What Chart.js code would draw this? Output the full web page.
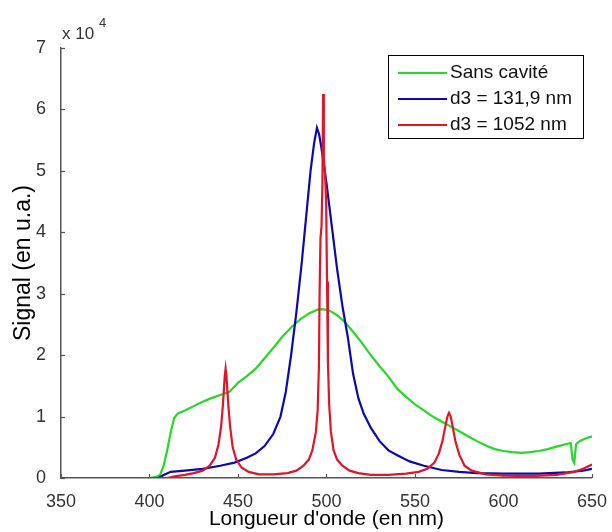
<!DOCTYPE html>
<html>
<head>
<meta charset="utf-8">
<script src="https://cdn.jsdelivr.net/npm/chart.js@4.4.1/dist/chart.umd.min.js"></script>
<style>
  html, body { margin: 0; padding: 0; background: #fff; }
  #wrap { width: 612px; height: 532px; }
</style>
</head>
<body>
<div id="wrap"><canvas id="c" width="612" height="532"></canvas></div>
<script>
// ---- Data (signal in raw counts, wavelength in nm) ----
const seriesLabels = ["Sans cavité", "d3 = 131,9 nm", "d3 = 1052 nm"];
const xTickValues = [350, 400, 450, 500, 550, 600, 650];
const yTickLabels = ["0", "1", "2", "3", "4", "5", "6", "7"];

const wlSansCavite = [350,380,400,404,406,408,410,412,414,416,420,425,430,435,440,445,450,455,460,465,470,475,480,485,490,495,498,502,506,510,515,520,525,530,535,540,545,550,555,560,565,570,575,580,585,590,595,600,605,610,615,620,625,630,635,638,639,640,641,643,646,650];
const sansCavite = [0,0,0,200,500,2000,4500,7500,9800,10500,11000,11700,12400,13000,13500,14000,15500,16600,17800,19500,21200,23000,24500,25800,26800,27400,27500,27200,26500,25500,23800,22000,20000,18200,16500,14500,13200,12000,11000,10000,9200,8400,7600,6800,6000,5300,4700,4400,4200,4100,4200,4400,4700,5100,5500,5700,3000,2500,5500,6000,6400,6800];

const wlD3_131 = [350,380,405,408,412,420,430,440,448,455,460,465,470,474,477,480,483,486,489,491,493,494.6,495.8,497,498.5,500,503,506,509,512,515,518,521,525,530,535,540,547,555,565,575,585,600,620,635,645,650];
const d3_131 = [0,0,0,500,1000,1200,1500,2000,2500,3300,4000,5200,7200,10000,14000,20000,27000,35000,44000,50000,54500,57000,56000,54000,51000,48000,41000,34000,28000,23000,17000,13000,10500,8200,6000,4500,3700,2700,2000,1300,1000,800,700,700,900,1200,1500];

const wlD3_1052 = [350,380,410,415,420,425,430,434,437,439,440.5,441.5,442.5,443,443.5,444.5,445.5,447,449,452,456,462,470,478,483,487,490,492,494,495,495.7,496.1,496.6,497.2,497.7,498.1,498.5,499.1,499.8,500.3,500.8,501.5,502.5,504,506,509,513,518,525,535,545,552,557,561,563.5,565.5,567,568.3,569.2,570.2,571.5,573,575,578,582,590,600,615,630,640,645,650];
const d3_1052 = [0,0,0,300,500,800,1200,2000,3300,5500,8500,12000,16500,17800,16500,12000,8500,5000,3000,1700,1000,600,600,800,1200,2000,3000,4500,7500,11000,18000,30000,39000,41000,48000,62500,52000,50000,45000,32000,19000,12000,7500,4500,3000,2000,1200,800,500,500,700,1000,1500,2500,4000,6000,8200,10000,10600,10000,8000,5800,3800,2000,1200,600,400,300,500,1000,1500,2200];

const seriesColors = ["rgb(40,215,40)", "rgb(10,10,175)", "rgb(225,20,40)"];

function toPoints(xs, ys) { return xs.map((x, i) => ({ x: x, y: ys[i] })); }

const FONT = "'Liberation Sans', Arial, Helvetica, sans-serif";

const extrasPlugin = {
  id: 'extras',
  afterDraw(chart) {
    const ctx = chart.ctx;
    const xs = chart.scales.x, ys = chart.scales.y;
    const area = chart.chartArea;
    ctx.save();
    // inward tick marks
    ctx.strokeStyle = '#555';
    ctx.lineWidth = 1.2;
    xs.ticks.forEach(t => {
      const px = Math.round(xs.getPixelForValue(t.value)) + 0.5;
      ctx.beginPath(); ctx.moveTo(px, area.bottom); ctx.lineTo(px, area.bottom - 4); ctx.stroke();
    });
    ys.ticks.forEach(t => {
      const py = Math.round(ys.getPixelForValue(t.value)) + 0.5;
      ctx.beginPath(); ctx.moveTo(area.left, py); ctx.lineTo(area.left + 4, py); ctx.stroke();
    });
    // exponent label
    ctx.fillStyle = '#333';
    ctx.textBaseline = 'middle';
    ctx.textAlign = 'left';
    ctx.font = "17px " + FONT;
    ctx.fillText("x 10", area.left + 1, area.top - 14);
    ctx.font = "13px " + FONT;
    ctx.fillText("4", area.left + 38, area.top - 25);
    // legend box
    const bx = 388, by = 55, bw = 195, bh = 83;
    ctx.fillStyle = '#fff';
    ctx.fillRect(bx, by, bw, bh);
    ctx.strokeStyle = '#000';
    ctx.lineWidth = 1;
    ctx.strokeRect(bx + 0.5, by + 0.5, bw, bh);
    ctx.font = "19px " + FONT;
    chart.data.datasets.forEach((ds, i) => {
      const yy = by + 18 + i * 26;
      ctx.strokeStyle = ds.borderColor;
      ctx.lineWidth = 2;
      ctx.beginPath(); ctx.moveTo(bx + 10, yy); ctx.lineTo(bx + 59, yy); ctx.stroke();
      ctx.fillStyle = '#111';
      ctx.fillText(ds.label, bx + 62, yy);
    });
    ctx.restore();
  }
};

new Chart(document.getElementById('c'), {
  type: 'line',
  data: {
    datasets: [
      { label: seriesLabels[0], data: toPoints(wlSansCavite, sansCavite), borderColor: seriesColors[0], order: 3 },
      { label: seriesLabels[1], data: toPoints(wlD3_131, d3_131), borderColor: seriesColors[1], order: 2 },
      { label: seriesLabels[2], data: toPoints(wlD3_1052, d3_1052), borderColor: seriesColors[2], order: 1 }
    ].map(d => Object.assign(d, { borderWidth: 2.2, pointRadius: 0, tension: 0, fill: false }))
  },
  options: {
    responsive: false,
    animation: false,
    layout: { padding: { top: 48, right: 15, left: 0, bottom: 0 } },
    plugins: { legend: { display: false }, tooltip: { enabled: false } },
    scales: {
      x: {
        type: 'linear', min: 350, max: 650,
        afterBuildTicks: s => { s.ticks = xTickValues.map(v => ({ value: v })); },
        afterFit: s => { s.height = 54; },
        grid: { display: false },
        border: { display: true, color: '#555', width: 1.5 },
        ticks: { font: { size: 18, family: FONT }, color: '#333', padding: 5, maxRotation: 0 },
        title: { display: true, text: "Longueur d'onde (en nm)", font: { size: 21, family: FONT }, color: '#000', padding: { top: 0, bottom: 0 } }
      },
      y: {
        type: 'linear', min: 0, max: 70000,
        afterBuildTicks: s => { s.ticks = yTickLabels.map((l, i) => ({ value: i * 10000 })); },
        afterFit: s => { s.width = 61; },
        grid: { display: false },
        border: { display: true, color: '#555', width: 1.5 },
        ticks: { font: { size: 18, family: FONT }, color: '#333', padding: 7,
                 callback: (v, i) => yTickLabels[i] },
        title: { display: true, text: "Signal (en u.a.)", font: { size: 23, family: FONT }, color: '#000', padding: { top: 10, bottom: 0 } }
      }
    }
  },
  plugins: [extrasPlugin]
});
</script>
</body>
</html>
